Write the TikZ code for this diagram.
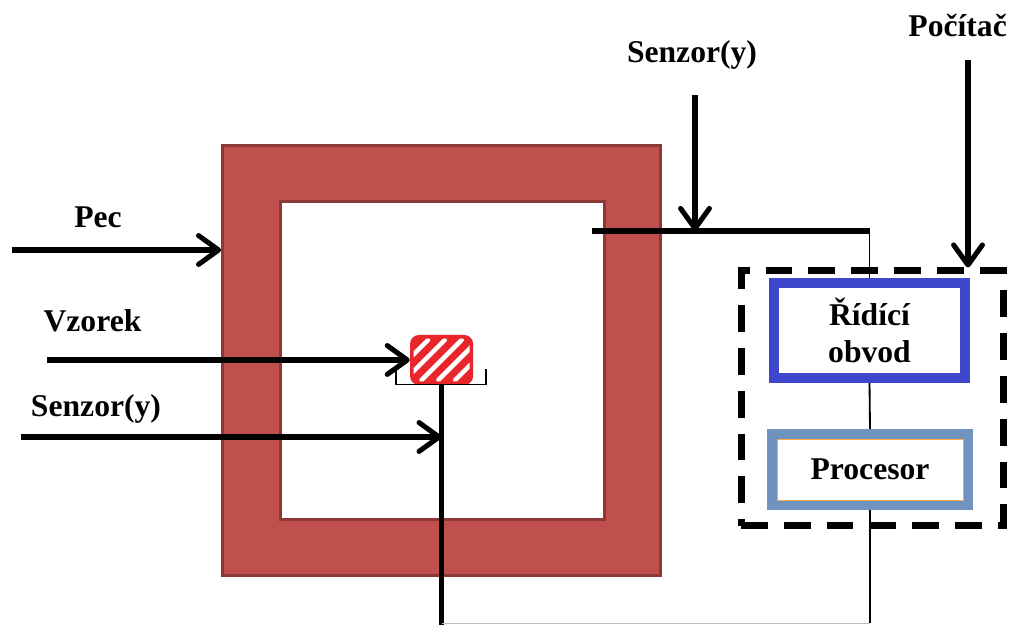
\documentclass[tikz,border=0pt]{standalone}
\usepackage{fontspec}
\setmainfont{Liberation Serif}
\usetikzlibrary{arrows.meta,positioning,calc}

\definecolor{pecred}{HTML}{C0504D}
\definecolor{pecdark}{HTML}{8C3836}
\definecolor{vzred}{HTML}{E8262B}
\definecolor{ridblue}{HTML}{3F48CC}
\definecolor{procblue}{HTML}{7092BE}

\begin{document}
\begin{tikzpicture}[>={Straight Barb[length=0.5cm,width=0.72cm,round]},
  lbl/.style={font=\fontsize{22.5}{26}\selectfont\bfseries,anchor=base,inner sep=0pt},
  feed/.style={line width=3.6pt,->},
  bar/.style={line width=3.6pt},
  wire/.style={line width=1.3pt},
  stena/.style={draw=pecdark,line width=2pt,inner sep=0pt},
  blok/.style={fill=white,line width=0.25cm,inner sep=0pt,align=center,
    font=\fontsize{22.5}{26}\selectfont\bfseries}]
  \useasboundingbox (0,0) rectangle (25.325,15.625);

  % pec a komora
  \node[stena,fill=pecred,minimum width=10.95cm,minimum height=10.75cm] (pec) at (11.0375,6.6125) {};
  \node[stena,fill=white,minimum width=8.1cm,minimum height=7.95cm] (komora) at (11.0625,6.6125) {};

  % vzorek s miskou
  \node[fill=vzred,rounded corners=0.22cm,minimum width=1.575cm,minimum height=1.25cm,inner sep=0pt,
    path picture={
      \clip[rounded corners=0.15cm] ([shift={(0.09,0.09)}]path picture bounding box.south west)
        rectangle ([shift={(-0.09,-0.09)}]path picture bounding box.north east);
      \foreach \k in {-2,...,2}{
        \draw[white,line width=3.2pt,line cap=round] ([xshift=\k*0.42cm]path picture bounding box.center) +(-0.5,-0.5) -- +(0.5,0.5);}}]
    (vz) at (11.04,6.625) {};
  \draw[line width=1pt] ([shift={(-1.14,0.4)}]vz.south) -- ++(0,-0.375) -- ++(2.25,0) -- ++(0,0.375);

  % pocitac
  \node[draw,line width=0.175cm,dash pattern=on 0.67cm off 0.4cm,minimum width=6.55cm,minimum height=6.375cm] (pc) at (21.8,5.6625) {};
  \node[blok,draw=ridblue,minimum width=4.775cm,minimum height=2.375cm] (rid) at (21.7375,7.3625) {Řídící\\obvod};
  \node[blok,draw=procblue,minimum width=4.9cm,minimum height=1.775cm] (proc) at (21.75,3.8875) {Procesor};
  \draw[orange!70,line width=0.6pt] ([shift={(0.25,0.25)}]proc.south west) rectangle ([shift={(-0.25,-0.25)}]proc.north east);

  \coordinate (pecIn) at (0.3,9.375);
  \coordinate (vzIn) at (1.175,6.625);
  \coordinate (senIn) at (0.525,4.7);
  \coordinate (senTop) at (17.375,13.25);
  \coordinate (pcIn) at (24.2,14.125);
  \coordinate (tc) at (14.8,9.85);
  \coordinate (dno) at (11.04,0);

  % vstupy
  \draw[feed] (pecIn) -- (pecIn -| pec.west);
  \draw[feed] (vzIn) -- (vz.west);
  \draw[feed] (senIn) -- (senIn -| vz.south);
  \draw[feed] (senTop) -- (senTop |- tc);
  \draw[feed] (pcIn) -- (pcIn |- pc.north);

  % vedeni
  \draw[bar] (vz.south) -- (dno);
  \draw[bar] (tc) -- (rid.north |- tc);
  \draw[wire] (rid.north |- tc) -- (rid.north);
  \draw[wire] (rid.south) -- (proc.north);
  \draw[wire] (proc.south) -- (proc.south |- 0,0.05);
  \draw[gray!50,line width=0.6pt] (dno |- 0,0.05) -- (proc.south |- 0,0.05);

  % popisky
  \node[lbl] (lPec) at (2.45,9.925) {Pec};
  \node[lbl] (lVz) at (2.3125,7.325) {Vzorek};
  \node[lbl] (lSenL) at (2.4,5.2) {Senzor(y)};
  \node[lbl] (lSenT) at (17.3,14.05) {Senzor(y)};
  \node[lbl] (lPc) at (23.94,14.7) {Počítač};
\end{tikzpicture}
\end{document}
